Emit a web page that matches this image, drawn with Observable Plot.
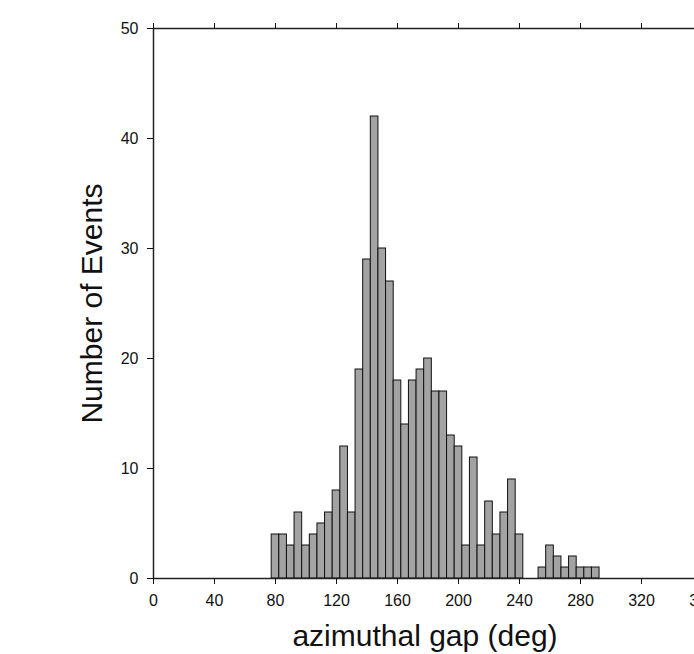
<!DOCTYPE html>
<html>
<head>
<meta charset="utf-8">
<script src="https://cdn.jsdelivr.net/npm/d3@7"></script>
<script src="https://cdn.jsdelivr.net/npm/@observablehq/plot@0.6"></script>
<style>
  html, body { margin: 0; padding: 0; overflow: hidden; background: #fff; }
  #chart { width: 704px; }
  #chart svg { display: block; max-width: none !important; width: 704px !important; height: 654px !important; }
</style>
</head>
<body>
<div id="chart"></div>
<script>
// Bin centers (deg), 5-degree bins
const binCenters = [80, 85, 90, 95, 100, 105, 110, 115, 120, 125, 130, 135, 140, 145, 150, 155, 160, 165, 170, 175, 180, 185, 190, 195, 200, 205, 210, 215, 220, 225, 230, 235, 240, 245, 250, 255, 260, 265, 270, 275, 280, 285, 290];
// Number of events per bin
const counts = [4, 4, 3, 6, 3, 4, 5, 6, 8, 12, 6, 19, 29, 42, 30, 27, 18, 14, 18, 19, 20, 17, 17, 13, 12, 3, 11, 3, 7, 4, 6, 9, 4, 0, 0, 1, 3, 2, 1, 2, 1, 1, 1];
const binWidth = 5;
const xTicks = [0, 40, 80, 120, 160, 200, 240, 280, 320, 360];
const yTicks = [0, 10, 20, 30, 40, 50];
const xLabel = "azimuthal gap (deg)";
const yLabel = "Number of Events";

const data = binCenters.map((c, i) => ({x1: c - binWidth / 2, x2: c + binWidth / 2, n: counts[i]}))
  .filter(d => d.n > 0);

const chart = Plot.plot({
  width: 704,
  height: 654,
  marginLeft: 153,
  marginRight: 2,
  marginTop: 28,
  marginBottom: 76,
  style: {fontFamily: "'Liberation Sans', Arial, Helvetica, sans-serif", color: "#111", background: "#fff"},
  x: {domain: [0, 360]},
  y: {domain: [0, 50]},
  marks: [
    Plot.rectY(data, {x1: "x1", x2: "x2", y: "n", fill: "#a3a3a3", stroke: "#111", strokeWidth: 1}),
    Plot.frame({stroke: "#222", strokeWidth: 1.5}),
    Plot.axisX({anchor: "bottom", ticks: xTicks, tickSize: 6, tickPadding: 10, fontSize: 16, label: null}),
    Plot.axisX({anchor: "top", ticks: xTicks, tickSize: 6, tickFormat: () => "", label: null}),
    Plot.axisY({anchor: "left", ticks: yTicks, tickSize: 6, tickPadding: 9, fontSize: 16, label: null}),
    Plot.text([yLabel], {frameAnchor: "left", text: d => d, rotate: -90, textAnchor: "middle", dx: -52, lineAnchor: "bottom", fontSize: 30, fill: "#111"}),
    Plot.text([xLabel], {frameAnchor: "bottom", text: d => d, textAnchor: "middle", dx: -3, dy: 67, lineAnchor: "bottom", fontSize: 30, fill: "#111"})
  ]
});
document.getElementById("chart").appendChild(chart);
</script>
</body>
</html>
